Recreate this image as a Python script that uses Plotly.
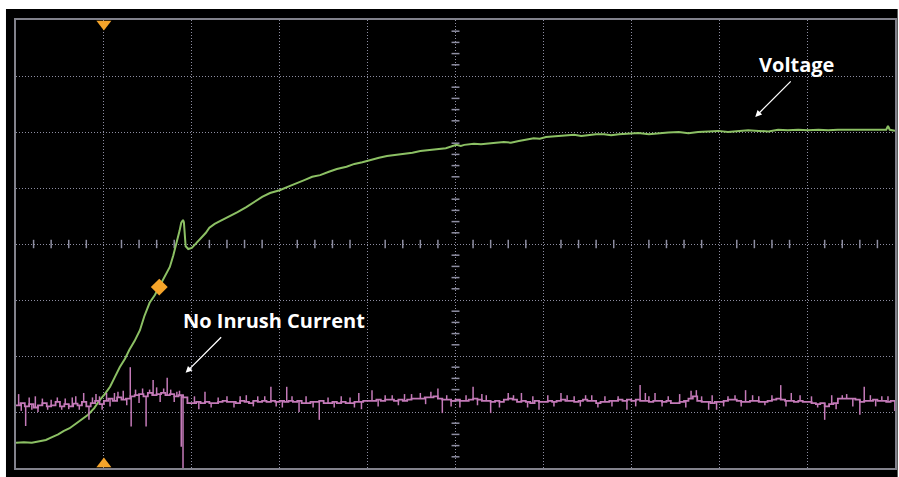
import plotly.graph_objects as go

# ---------------- data (screen divisions: time 0..10, level -4..4) ----------------
voltage_t = [0.00, 0.09, 0.18, 0.27, 0.34, 0.41, 0.48, 0.54, 0.61, 0.68, 0.75, 0.82, 0.89,
             0.95, 1.01, 1.07, 1.12, 1.18, 1.24, 1.29, 1.35, 1.41, 1.46, 1.52, 1.58, 1.63,
             1.69, 1.75, 1.79, 1.83, 1.86, 1.88, 1.90, 1.91, 1.92, 1.93, 1.96, 2.00, 2.03,
             2.07, 2.11, 2.16, 2.20, 2.26, 2.32, 2.37, 2.44, 2.52, 2.62, 2.71, 2.80, 2.89,
             3.00, 3.09, 3.19, 3.28, 3.37, 3.46, 3.56, 3.65, 3.76, 3.85, 3.94, 4.03, 4.13,
             4.22, 4.32, 4.42, 4.51, 4.60, 4.70, 4.79, 4.89, 5.01, 5.06, 5.10, 5.16, 5.21,
             5.29, 5.38, 5.46, 5.55, 5.63, 5.72, 5.80, 5.89, 5.96, 6.03, 6.10, 6.17, 6.26,
             6.35, 6.43, 6.52, 6.60, 6.69, 6.77, 6.86, 6.97, 7.08, 7.20, 7.31, 7.42, 7.54,
             7.65, 7.76, 7.88, 7.99, 8.10, 8.22, 8.33, 8.45, 8.56, 8.67, 8.78, 8.90, 9.01,
             9.13, 9.24, 9.35, 9.47, 9.58, 9.67, 9.75, 9.84, 9.90, 9.92, 9.94, 10.00]
voltage_v = [-3.55, -3.54, -3.55, -3.52, -3.50, -3.45, -3.40, -3.34, -3.29, -3.21, -3.13, -3.05, -2.93,
             -2.79, -2.68, -2.55, -2.39, -2.20, -2.05, -1.89, -1.73, -1.54, -1.29, -1.05, -0.91, -0.77,
             -0.59, -0.41, -0.20, 0.02, 0.23, 0.38, 0.43, 0.39, 0.16, -0.04, -0.09, -0.07, -0.02,
             0.05, 0.11, 0.20, 0.29, 0.36, 0.41, 0.45, 0.50, 0.57, 0.66, 0.75, 0.84, 0.91,
             0.96, 1.02, 1.09, 1.14, 1.20, 1.23, 1.29, 1.34, 1.38, 1.43, 1.46, 1.50, 1.54,
             1.57, 1.59, 1.61, 1.63, 1.66, 1.68, 1.70, 1.71, 1.77, 1.75, 1.77, 1.78, 1.79,
             1.78, 1.80, 1.81, 1.82, 1.81, 1.84, 1.86, 1.89, 1.88, 1.91, 1.92, 1.93, 1.93,
             1.95, 1.93, 1.95, 1.96, 1.96, 1.94, 1.96, 1.97, 1.98, 1.96, 1.98, 1.99, 2.00,
             1.98, 2.00, 2.01, 2.02, 2.00, 2.02, 2.03, 2.02, 2.01, 2.04, 2.03, 2.04, 2.03,
             2.04, 2.03, 2.04, 2.04, 2.04, 2.03, 2.04, 2.04, 2.04, 2.11, 2.04, 2.02]

current_dt = 0.05
current_base = [
    -2.88, -2.84, -2.90, -2.86, -2.92, -2.88, -2.84, -2.90, -2.88, -2.82, -2.90, -2.86, -2.90, -2.85, -2.88, -2.82, -2.90, -2.84, -2.80, -2.86,
    -2.80, -2.76, -2.80, -2.74, -2.78, -2.76, -2.72, -2.70, -2.68, -2.72, -2.66, -2.70, -2.68, -2.66, -2.70, -2.68, -2.72, -2.70, -2.74, -2.84,
    -2.84, -2.82, -2.84, -2.82, -2.84, -2.84, -2.82, -2.80, -2.82, -2.82, -2.84, -2.80, -2.82, -2.84, -2.80, -2.82, -2.80, -2.82, -2.80, -2.82,
    -2.80, -2.82, -2.80, -2.82, -2.80, -2.84, -2.84, -2.82, -2.82, -2.80, -2.84, -2.84, -2.82, -2.84, -2.82, -2.84, -2.84, -2.82, -2.82, -2.80,
    -2.80, -2.80, -2.78, -2.80, -2.78, -2.78, -2.80, -2.78, -2.80, -2.78, -2.76, -2.76, -2.76, -2.74, -2.74, -2.72, -2.76, -2.78, -2.78, -2.80,
    -2.78, -2.80, -2.80, -2.78, -2.76, -2.78, -2.80, -2.80, -2.82, -2.80, -2.82, -2.78, -2.76, -2.78, -2.82, -2.80, -2.82, -2.84, -2.80, -2.82,
    -2.82, -2.80, -2.82, -2.80, -2.78, -2.80, -2.80, -2.82, -2.80, -2.78, -2.80, -2.80, -2.84, -2.82, -2.82, -2.80, -2.80, -2.78, -2.80, -2.78,
    -2.80, -2.78, -2.80, -2.80, -2.82, -2.80, -2.80, -2.82, -2.80, -2.84, -2.84, -2.82, -2.80, -2.76, -2.72, -2.80, -2.82, -2.82, -2.84, -2.82,
    -2.82, -2.80, -2.78, -2.78, -2.80, -2.82, -2.82, -2.80, -2.80, -2.82, -2.82, -2.80, -2.78, -2.76, -2.78, -2.80, -2.80, -2.82, -2.80, -2.82,
    -2.82, -2.84, -2.86, -2.84, -2.90, -2.86, -2.84, -2.76, -2.76, -2.76, -2.76, -2.78, -2.82, -2.80, -2.80, -2.78, -2.80, -2.80, -2.82, -2.80,
    -2.98]

spike_t = [0.03, 0.06, 0.11, 0.15, 0.18, 0.22, 0.25, 0.30, 0.36, 0.40, 0.47, 0.52, 0.56, 0.60, 0.64,
           0.68, 0.72, 0.77, 0.83, 0.87, 0.91, 0.95, 0.98,
           1.03, 1.07, 1.12, 1.16, 1.22, 1.26, 1.30, 1.31, 1.36, 1.40, 1.44, 1.48, 1.52, 1.56,
           1.60, 1.64, 1.68, 1.72, 1.76, 1.80, 1.83, 1.86, 1.88, 1.90,
           2.03, 2.08, 2.15, 2.22, 2.30, 2.40, 2.48, 2.55, 2.62, 2.70, 2.75, 2.83, 2.90, 2.96,
           3.03, 3.08, 3.14, 3.22, 3.30, 3.38, 3.45, 3.55, 3.62, 3.70, 3.80, 3.85, 3.90, 3.93,
           4.05, 4.12, 4.20, 4.28, 4.35, 4.42, 4.50, 4.60, 4.66, 4.72, 4.80, 4.85, 4.90, 4.95,
           5.05, 5.12, 5.20, 5.25, 5.30, 5.35, 5.40, 5.50, 5.60, 5.66, 5.75, 5.82, 5.88, 5.95,
           6.05, 6.12, 6.20, 6.27, 6.35, 6.42, 6.48, 6.55, 6.62, 6.70, 6.78, 6.85, 6.95,
           7.05, 7.10, 7.16, 7.20, 7.27, 7.35, 7.42, 7.55, 7.62, 7.68, 7.74, 7.80, 7.88, 7.92, 7.97,
           8.05, 8.10, 8.18, 8.25, 8.30, 8.38, 8.45, 8.52, 8.60, 8.70, 8.76, 8.82, 8.92,
           9.05, 9.12, 9.20, 9.28, 9.33, 9.40, 9.45, 9.52, 9.60, 9.65, 9.72, 9.78, 9.85, 9.92]
spike_v = [-2.68, -2.98, -3.25, -2.74, -2.96, -2.72, -3.00, -2.76, -2.96, -2.78, -2.74, -2.96, -2.76, -2.95, -2.74,
           -2.72, -2.96, -2.66, -3.14, -2.74, -2.68, -2.72, -2.96,
           -2.66, -2.90, -2.66, -2.64, -2.62, -2.88, -2.20, -3.26, -2.60, -2.84, -2.58, -3.26, -2.60, -2.43,
           -2.56, -2.82, -2.58, -2.39, -2.60, -2.82, -2.64, -2.62, -3.62, -4.00,
           -2.72, -2.95, -2.64, -2.92, -2.74, -2.72, -2.92, -2.72, -2.70, -2.90, -2.72, -2.72, -2.55, -2.90,
           -2.92, -2.55, -2.72, -3.00, -2.72, -2.92, -3.14, -2.74, -2.92, -2.72, -2.74, -2.92, -2.66, -2.95,
           -2.61, -2.90, -2.70, -2.70, -2.88, -2.68, -2.68, -2.66, -2.86, -2.64, -2.58, -3.02, -2.70, -2.90,
           -2.92, -2.70, -2.55, -2.88, -2.68, -2.70, -3.02, -2.92, -2.66, -2.70, -2.66, -2.92, -2.72, -2.96,
           -2.70, -2.90, -2.66, -2.70, -2.72, -2.90, -2.70, -2.70, -2.92, -2.72, -2.90, -2.72, -2.96,
           -2.90, -2.52, -2.66, -2.72, -2.66, -2.90, -2.72, -2.68, -2.92, -2.62, -2.61, -2.72, -2.96, -2.70, -2.96,
           -2.90, -2.72, -2.70, -2.90, -2.61, -2.70, -2.72, -2.88, -2.70, -2.52, -2.90, -2.66, -2.70,
           -2.72, -2.92, -3.14, -2.70, -2.95, -2.70, -2.68, -2.90, -3.05, -2.55, -2.70, -2.90, -2.72, -2.72]

trigger_time = 1.0
trigger_mark_t = [1.63]
trigger_mark_v = [-0.77]

annotation_labels = ["Voltage", "No Inrush Current"]

# ---------------- styling ----------------
GREEN = "#8cc064"
MAGENTA = "#c47ab8"
ORANGE = "#f5a42a"
GRID = "#8e8ea2"
BORDER = "#82828c"

X_RANGE = [0, 10]
Y_RANGE = [-4, 4]

fig = go.Figure()

# voltage trace
fig.add_trace(go.Scatter(x=voltage_t, y=voltage_v, mode="lines",
                         line=dict(color=GREEN, width=2),
                         hoverinfo="skip", showlegend=False))

# current trace (baseline)
current_t = [i * current_dt for i in range(len(current_base))]
fig.add_trace(go.Scatter(x=current_t, y=current_base, mode="lines",
                         line=dict(color=MAGENTA, width=1.8, shape="hv"),
                         hoverinfo="skip", showlegend=False))

# current spikes as vertical segments from the baseline
sx, sy = [], []
for t, v in zip(spike_t, spike_v):
    idx = min(int(t / current_dt), len(current_base) - 1)
    b = current_base[idx]
    sx += [t, t, None]
    sy += [b, v, None]
fig.add_trace(go.Scatter(x=sx, y=sy, mode="lines",
                         line=dict(color=MAGENTA, width=1.5),
                         hoverinfo="skip", showlegend=False))

# trigger diamond on voltage trace
fig.add_trace(go.Scatter(x=trigger_mark_t, y=trigger_mark_v, mode="markers",
                         marker=dict(symbol="diamond", size=13, color=ORANGE),
                         hoverinfo="skip", showlegend=False))

# trigger position triangles at top/bottom edges
fig.add_trace(go.Scatter(x=[trigger_time], y=[Y_RANGE[1] - 0.07], mode="markers",
                         marker=dict(symbol="triangle-down", size=13, color=ORANGE),
                         cliponaxis=False, hoverinfo="skip", showlegend=False))
fig.add_trace(go.Scatter(x=[trigger_time], y=[Y_RANGE[0] + 0.07], mode="markers",
                         marker=dict(symbol="triangle-up", size=13, color=ORANGE),
                         cliponaxis=False, hoverinfo="skip", showlegend=False))

shapes = []
# black screen panel
shapes.append(dict(type="rect", xref="paper", yref="paper",
                   x0=-0.0114, x1=1.003, y0=-0.021, y1=1.0246,
                   fillcolor="black", line=dict(width=0), layer="below"))
# center crosshair minor ticks
for k in range(1, 50):
    if k % 5 == 0:
        continue
    x = k * 0.2
    shapes.append(dict(type="line", xref="x", yref="y", x0=x, x1=x, y0=-0.075, y1=0.075,
                       line=dict(color=GRID, width=1.5), layer="below"))
for k in range(-19, 20):
    if k % 5 == 0:
        continue
    y = k * 0.2
    shapes.append(dict(type="line", xref="x", yref="y", x0=4.955, x1=5.045, y0=y, y1=y,
                       line=dict(color=GRID, width=1.5), layer="below"))

annotations = []
FONT = dict(family="Open Sans, Liberation Sans, sans-serif", size=20, color="white", weight="bold")
annotations.append(dict(x=8.88, y=3.2, xref="x", yref="y", text="<b>%s</b>" % annotation_labels[0],
                        showarrow=False, font=FONT, xanchor="center", yanchor="middle"))
annotations.append(dict(x=2.94, y=-1.36, xref="x", yref="y", text="<b>%s</b>" % annotation_labels[1],
                        showarrow=False, font=FONT, xanchor="center", yanchor="middle"))
annotations.append(dict(x=8.41, y=2.27, xref="x", yref="y", ax=37, ay=-37, text="",
                        showarrow=True, arrowhead=2, arrowsize=1, arrowwidth=1.3,
                        arrowcolor="white", standoff=0))
annotations.append(dict(x=1.93, y=-2.30, xref="x", yref="y", ax=37, ay=-37, text="",
                        showarrow=True, arrowhead=2, arrowsize=1, arrowwidth=1.3,
                        arrowcolor="white", standoff=0))

axis_common = dict(showticklabels=False, ticks="", zeroline=False, showgrid=True,
                   gridcolor=GRID, gridwidth=1, griddash="1px,2px",
                   showline=True, linecolor=BORDER, linewidth=2, mirror=True,
                   fixedrange=True)

fig.update_layout(
    width=899, height=477,
    margin=dict(l=16, r=2, t=20, b=9),
    paper_bgcolor="white",
    plot_bgcolor="black",
    xaxis=dict(range=X_RANGE, dtick=1, tick0=0, **axis_common),
    yaxis=dict(range=Y_RANGE, dtick=1, tick0=0, **axis_common),
    shapes=shapes,
    annotations=annotations,
    showlegend=False,
)

fig.write_html("out.html", config={"displayModeBar": False},
               post_script="document.body.style.margin='0';document.body.style.overflow='hidden';")
